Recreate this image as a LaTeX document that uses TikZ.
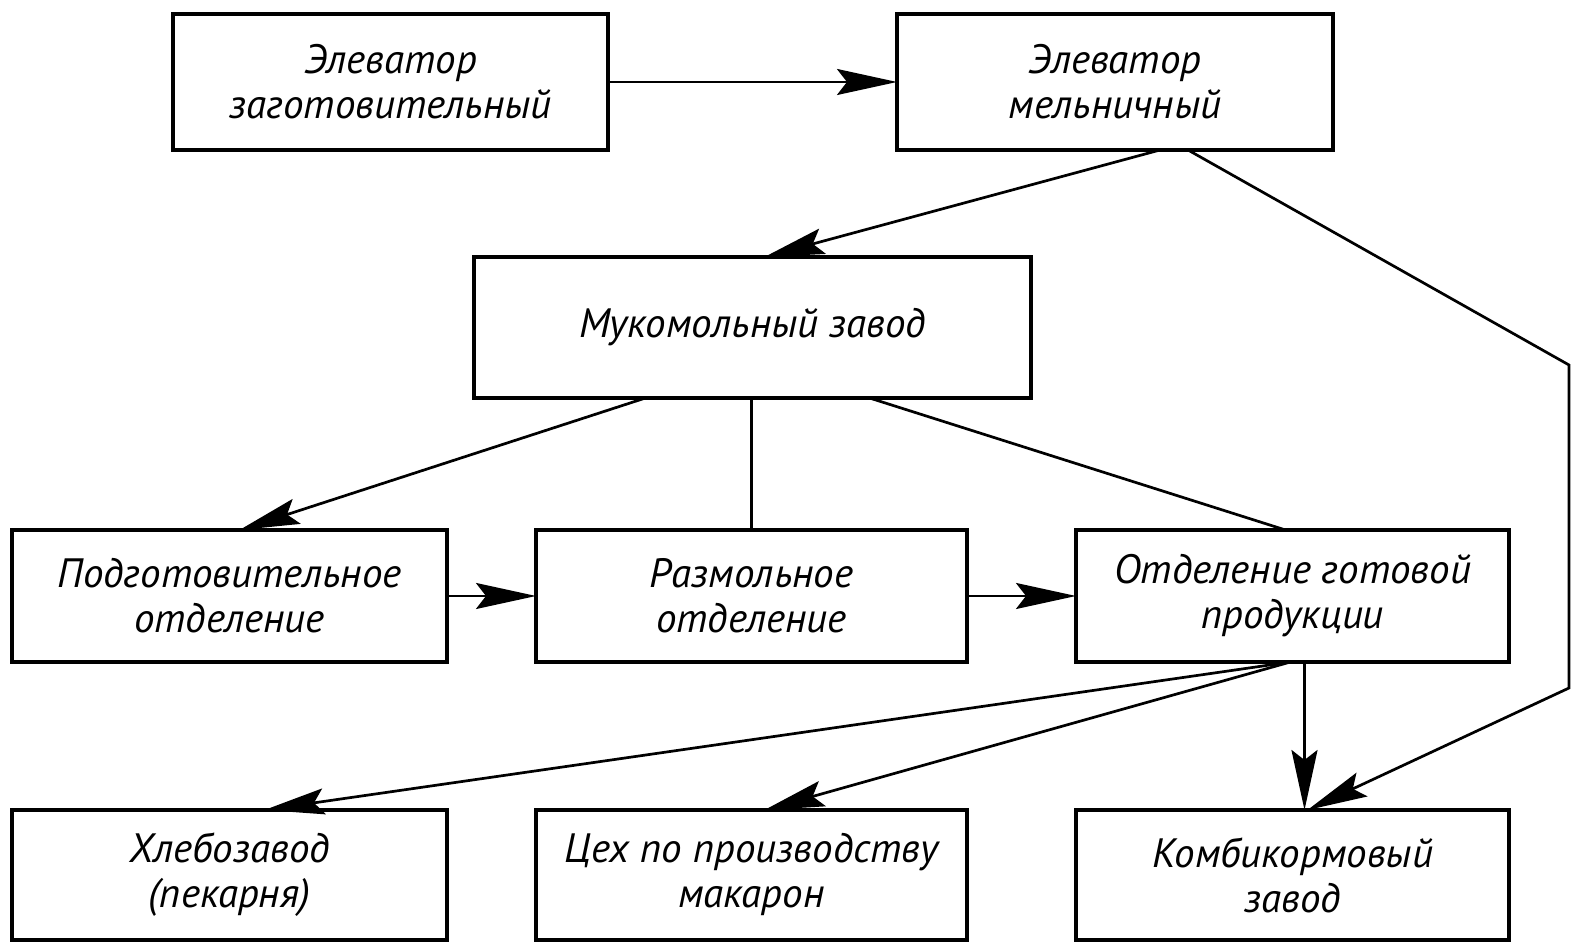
\documentclass[tikz,border=0pt]{standalone}
\usepackage{fontspec}
\setmainfont{PT Sans}
\usetikzlibrary{arrows.meta,calc}
\begin{document}
\begin{tikzpicture}[x=0.5pt,y=-0.5pt,
  box/.style={draw,line width=2.2pt,inner sep=0pt,outer sep=0pt,align=center,
    font=\fontsize{20.5}{22.5}\selectfont\itshape},
  conn/.style={line width=1.35pt},
  arr/.style={conn,-{Stealth[length=30pt,width=13pt,inset=5pt]}}]
\useasboundingbox (0,0) rectangle (1571,945);
\node[box,minimum width=217.5pt,minimum height=68pt] (e1) at (390.5,82) {Элеватор\\заготовительный};
\node[box,minimum width=218pt,minimum height=68pt] (e2) at (1115,82) {Элеватор\\мельничный};
\node[box,minimum width=278.5pt,minimum height=70.5pt] (muk) at (752.5,327.5) {Мукомольный завод};
\node[box,minimum width=217.5pt,minimum height=66pt] (podg) at (229.5,596) {Подготовительное\\отделение};
\node[box,minimum width=215.5pt,minimum height=66pt] (razm) at (751.5,596) {Размольное\\отделение};
\node[box,minimum width=216.5pt,minimum height=66pt] (otd) at (1292.5,596) {Отделение готовой\\продукции};
\node[box,minimum width=217.5pt,minimum height=65pt] (hleb) at (229.5,875) {Хлебозавод\\(пекарня)};
\node[box,minimum width=215.5pt,minimum height=65pt] (ceh) at (751.5,875) {Цех по производству\\макарон};
\node[box,minimum width=216.5pt,minimum height=65pt] (komb) at (1292.5,875) {Комбикормовый\\завод};
\coordinate (r1) at (1569,365);
\coordinate (r2) at (1569,688);
\draw[arr] (e1.east) -- (e2.west);
\draw[arr] ($(e2.south)+(45,0)$) -- ($(muk.north)+(12,0)$);
\draw[arr] ($(muk.south)+(-107,0)$) -- ($(podg.north)+(10,0)$);
\draw[conn] (muk.south -| razm.north) -- (razm.north);
\draw[conn] ($(muk.south)+(117,0)$) -- ($(otd.north)+(-7,0)$);
\draw[arr] (podg.east) -- (razm.west);
\draw[arr] (razm.east) -- (otd.west);
\draw[arr] ($(otd.south)+(-2,0)$) -- ($(hleb.north)+(35,0)$);
\draw[arr] ($(otd.south)+(-2,0)$) -- ($(ceh.north)+(13,0)$);
\draw[arr] ($(otd.south)+(12,0)$) -- ($(komb.north)+(12,0)$);
\draw[arr] ($(e2.south)+(73,0)$) -- (r1) -- (r2) -- ($(komb.north)+(15,0)$);
\end{tikzpicture}
\end{document}
